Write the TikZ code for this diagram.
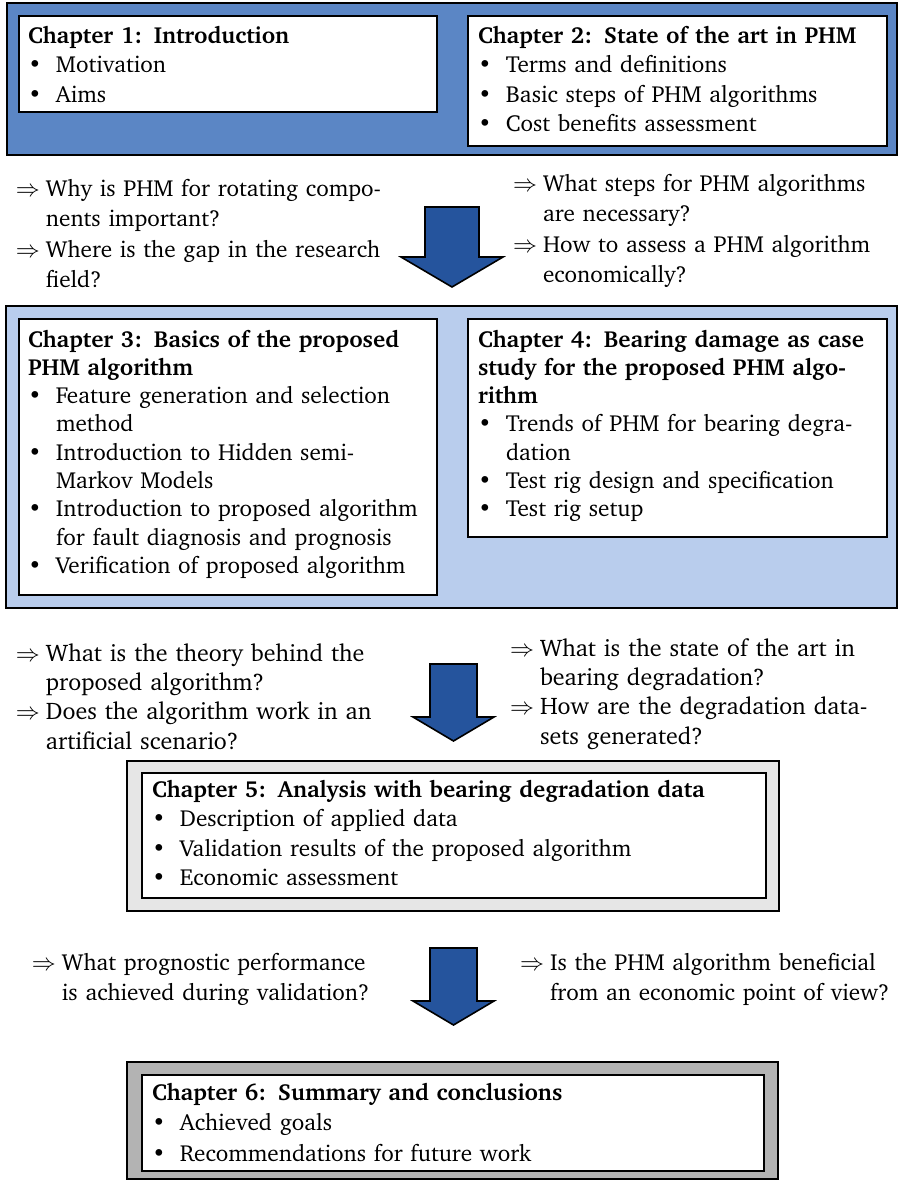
\documentclass[tikz,border=0pt]{standalone}
\usepackage[T1]{fontenc}
\usepackage{charter}
\definecolor{darkpanel}{RGB}{91,134,197}
\definecolor{lightpanel}{RGB}{185,205,237}
\definecolor{arrowblue}{RGB}{37,84,157}
\definecolor{panelgrayA}{RGB}{230,230,230}
\definecolor{panelgrayB}{RGB}{179,179,179}
% list helpers: bullet column and question-arrow column
\newcommand\itemmark{\makebox[14pt][l]{\textbullet}}
\newcommand\hangspace{\hspace*{14pt}}
\newcommand\qmark{\makebox[15pt][l]{$\Rightarrow$}}
\newcommand\qspace{\hspace*{15pt}}
\newcommand\firststrut{\rule{0pt}{10pt}}
\begin{document}
\begin{tikzpicture}[x=0.5pt,y=-0.5pt,
  panel/.style={draw=black, line width=1.1pt},
  chapbox/.style={draw=black, fill=white, line width=1.1pt},
  txt/.style={anchor=north west, inner sep=0pt, outer sep=0pt, align=left,
              text width=300pt, font=\fontsize{11.6}{14.8}\selectfont},
  tighttxt/.style={txt, font=\fontsize{11.6}{14.15}\selectfont},
  widetxt/.style={txt, font=\fontsize{11.6}{15.25}\selectfont},
  midtxt/.style={txt, font=\fontsize{12}{14.7}\selectfont},
  blockarrow/.style={draw=black, fill=arrowblue, line width=0.8pt, line join=miter},
  blockdown/.pic={\draw[blockarrow] (-23.5,0) -- (23.5,0) -- (23.5,53) -- (40.5,53)
                   -- (0,77) -- (-40.5,53) -- (-23.5,53) -- cycle;},
  blockdownwide/.pic={\draw[blockarrow] (-27,0) -- (27,0) -- (27,50) -- (51,50)
                   -- (0,80) -- (-51,50) -- (-27,50) -- cycle;}
]
\useasboundingbox (0,0) rectangle (901,1180);

% ---- Chapters 1 and 2 ----
\draw[panel, fill=darkpanel] (7,3) rectangle (897,155);
\draw[chapbox] (19,16) rectangle (437,112);
\draw[chapbox] (468,16) rectangle (887,146);
\node[txt] (ch1) at (28,23) {\firststrut\textbf{Chapter 1: Introduction}\\
  \itemmark Motivation\\
  \itemmark Aims};
\node[txt] (ch2) at (478,23) {\firststrut\textbf{Chapter 2: State of the art in PHM}\\
  \itemmark Terms and definitions\\
  \itemmark Basic steps of PHM algorithms\\
  \itemmark Cost benefits assessment};

% ---- questions after chapters 1 and 2 ----
\node[widetxt] (q1l) at (16,176) {\firststrut\qmark Why is PHM for rotating compo-\\
  \qspace nents important?\\
  \qmark Where is the gap in the research\\
  \qspace field?};
\node[widetxt] (q1r) at (513,171) {\firststrut\qmark What steps for PHM algorithms\\
  \qspace are necessary?\\
  \qmark How to assess a PHM algorithm\\
  \qspace economically?};
\pic at (452,207) {blockdownwide};

% ---- Chapters 3 and 4 ----
\draw[panel, fill=lightpanel] (6,306) rectangle (897,608);
\draw[chapbox] (19,319) rectangle (437,595);
\draw[chapbox] (468,319) rectangle (887,537);
\node[tighttxt] (ch3) at (28,327) {\firststrut\textbf{Chapter 3: Basics of the proposed}\\
  \textbf{PHM algorithm}\\
  \itemmark Feature generation and selection\\
  \hangspace method\\
  \itemmark Introduction to Hidden semi-\\
  \hangspace Markov Models\\
  \itemmark Introduction to proposed algorithm\\
  \hangspace for fault diagnosis and prognosis\\
  \itemmark Verification of proposed algorithm};
\node[tighttxt] (ch4) at (478,327) {\firststrut\textbf{Chapter 4: Bearing damage as case}\\
  \textbf{study for the proposed PHM algo-}\\
  \textbf{rithm}\\
  \itemmark Trends of PHM for bearing degra-\\
  \hangspace dation\\
  \itemmark Test rig design and specification\\
  \itemmark Test rig setup};

% ---- questions after chapters 3 and 4 ----
\node[midtxt] (q2l) at (16,641) {\firststrut\qmark What is the theory behind the\\
  \qspace proposed algorithm?\\
  \qmark Does the algorithm work in an\\
  \qspace artificial scenario?};
\node[midtxt] (q2r) at (510,636) {\firststrut\qmark What is the state of the art in\\
  \qspace bearing degradation?\\
  \qmark How are the degradation data-\\
  \qspace sets generated?};
\pic at (453.5,664) {blockdown};

% ---- Chapter 5 ----
\draw[panel, fill=panelgrayA] (127,761) rectangle (779,911);
\draw[chapbox] (142,773) rectangle (766,898);
\node[txt] (ch5) at (152,777) {\firststrut\textbf{Chapter 5: Analysis with bearing degradation data}\\
  \itemmark Description of applied data\\
  \itemmark Validation results of the proposed algorithm\\
  \itemmark Economic assessment};

% ---- questions after chapter 5 ----
\node[widetxt] (q3l) at (32,950) {\firststrut\qmark What prognostic performance\\
  \qspace is achieved during validation?};
\node[widetxt] (q3r) at (520,950) {\firststrut\qmark Is the PHM algorithm beneficial\\
  \qspace from an economic point of view?};
\pic at (453.5,948) {blockdown};

% ---- Chapter 6 ----
\draw[panel, fill=panelgrayB] (127,1062) rectangle (778,1179);
\draw[chapbox] (142,1075) rectangle (764,1171);
\node[widetxt] (ch6) at (152,1080) {\firststrut\textbf{Chapter 6: Summary and conclusions}\\
  \itemmark Achieved goals\\
  \itemmark Recommendations for future work};
\end{tikzpicture}
\end{document}
